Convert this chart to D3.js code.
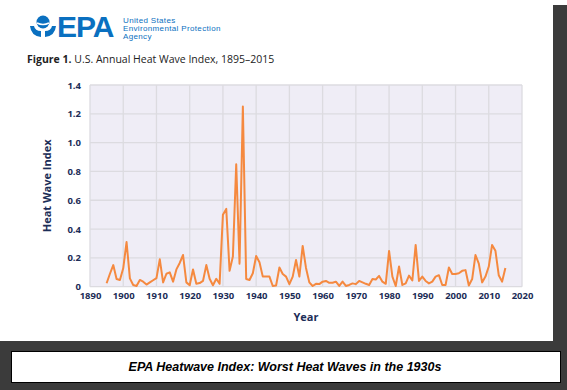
<!DOCTYPE html>
<html>
<head>
<meta charset="utf-8">
<script src="https://cdn.jsdelivr.net/npm/d3@7"></script>
<style>
  body { margin: 0; background: #fff; }
  svg { display: block; }
</style>
</head>
<body>
<svg id="chart" width="567" height="390"></svg>
<script>
// Heat wave index, one value per year, 1895-2015
const startYear = 1895;
const heatIndex = [
  0.024, 0.09, 0.15, 0.053, 0.047, 0.128, 0.31, 0.058, 0.012, 0.005,
  0.047, 0.035, 0.015, 0.03, 0.045, 0.06, 0.19, 0.03, 0.09, 0.10,
  0.035, 0.12, 0.165, 0.22, 0.03, 0.01, 0.12, 0.02, 0.025, 0.04,
  0.15, 0.055, 0.01, 0.055, 0.02, 0.50, 0.54, 0.11, 0.21, 0.85,
  0.16, 1.25, 0.053, 0.047, 0.093, 0.213, 0.17, 0.07, 0.07, 0.07,
  0.005, 0.008, 0.133, 0.088, 0.07, 0.018, 0.07, 0.185, 0.07, 0.283,
  0.13, 0.03, 0.005, 0.02, 0.018, 0.035, 0.04, 0.027, 0.027, 0.035,
  0.005, 0.035, 0.005, 0.012, 0.023, 0.018, 0.04, 0.03, 0.02, 0.012,
  0.053, 0.05, 0.075, 0.035, 0.02, 0.248, 0.07, 0.005, 0.14, 0.012,
  0.023, 0.077, 0.043, 0.29, 0.04, 0.07, 0.04, 0.023, 0.035, 0.07,
  0.08, 0.012, 0.012, 0.133, 0.088, 0.088, 0.093, 0.11, 0.115, 0.008,
  0.053, 0.22, 0.16, 0.03, 0.07, 0.14, 0.29, 0.25, 0.08, 0.035,
  0.13
];
const yearTicks = d3.range(1890, 2021, 10);
const indexTicks = [0, 0.2, 0.4, 0.6, 0.8, 1.0, 1.2, 1.4];

const data = heatIndex.map((v, i) => ({ year: startYear + i, value: v }));

const svg = d3.select("#chart");
const navy = "#1c2d57";
const epaBlue = "#0a70c0";

// frame: drop shadow strip on the right and the dark band with the caption
svg.append("rect").attr("x", 553).attr("y", 5).attr("width", 14).attr("height", 385).attr("fill", "#3b3b3b");
svg.append("rect").attr("x", 0).attr("y", 341).attr("width", 567).attr("height", 49).attr("fill", "#3b3b3b");
svg.append("rect").attr("x", 0).attr("y", 0).attr("width", 553).attr("height", 341).attr("fill", "#fff");
svg.append("rect")
  .attr("x", 11.5).attr("y", 351.5).attr("width", 549).attr("height", 31)
  .attr("fill", "#fff").attr("stroke", "#000").attr("stroke-width", 1);
svg.append("text")
  .attr("x", 285).attr("y", 371)
  .attr("text-anchor", "middle")
  .attr("font-family", "Liberation Sans, Arial, sans-serif")
  .attr("font-size", 12.5).attr("font-weight", "bold").attr("font-style", "italic")
  .attr("fill", "#000")
  .text("EPA Heatwave Index: Worst Heat Waves in the 1930s");

// EPA logo (rough)
const logo = svg.append("g").attr("transform", "translate(43,27)");
logo.append("circle").attr("cx", 0).attr("cy", -5).attr("r", 6.5).attr("fill", epaBlue);
logo.append("path").attr("d", "M-6,-4 Q0,-1 6,-4").attr("stroke", "#fff").attr("stroke-width", 1.5).attr("fill", "none");
logo.append("path").attr("d", "M-13,-1 Q-12,9 -2,10 L-2,4 Q-8,4 -9,-1 Z").attr("fill", epaBlue);
logo.append("path").attr("d", "M13,-1 Q12,9 2,10 L2,4 Q8,4 9,-1 Z").attr("fill", epaBlue);
svg.append("text")
  .attr("x", 57).attr("y", 37)
  .attr("font-family", "Liberation Sans, Arial, sans-serif")
  .attr("font-size", 30).attr("font-weight", "bold")
  .attr("fill", epaBlue).attr("letter-spacing", -1)
  .text("EPA");
const agency = svg.append("text")
  .attr("font-family", "Liberation Sans, Arial, sans-serif")
  .attr("font-size", 8).attr("letter-spacing", 0.35).attr("fill", epaBlue);
["United States", "Environmental Protection", "Agency"].forEach((t, i) => {
  agency.append("tspan").attr("x", 123).attr("y", 23 + i * 8.2).text(t);
});

// figure title
const title = svg.append("text")
  .attr("x", 27).attr("y", 63)
  .attr("font-family", "Open Sans, Noto Sans, sans-serif")
  .attr("font-size", 10.5).attr("fill", "#222");
title.append("tspan").attr("font-weight", "bold").text("Figure 1.");
title.append("tspan").text(" U.S. Annual Heat Wave Index, 1895–2015");

// plot area
const margin = { left: 90, right: 522, top: 85, bottom: 286.7 };
const x = d3.scaleLinear().domain([1890, 2020]).range([margin.left, margin.right]);
const y = d3.scaleLinear().domain([0, 1.4]).range([margin.bottom, margin.top]);

svg.append("rect")
  .attr("x", margin.left).attr("y", margin.top)
  .attr("width", margin.right - margin.left).attr("height", margin.bottom - margin.top)
  .attr("fill", "#efedf6");

svg.append("g").selectAll("line")
  .data(yearTicks).enter().append("line")
  .attr("x1", d => x(d)).attr("x2", d => x(d))
  .attr("y1", margin.top).attr("y2", margin.bottom)
  .attr("stroke", "#dcdbe0").attr("stroke-width", 1.3);

svg.append("g").selectAll("line")
  .data(indexTicks).enter().append("line")
  .attr("x1", margin.left).attr("x2", margin.right)
  .attr("y1", d => y(d)).attr("y2", d => y(d))
  .attr("stroke", "#dcdbe0").attr("stroke-width", 1.3);

// axes (labels only, lines hidden)
const xAxis = svg.append("g")
  .attr("transform", `translate(0,${margin.bottom})`)
  .call(d3.axisBottom(x).tickValues(yearTicks).tickFormat(d3.format("d")).tickSize(0).tickPadding(6));
const yAxis = svg.append("g")
  .attr("transform", `translate(${margin.left},0)`)
  .call(d3.axisLeft(y).tickValues(indexTicks).tickFormat(d => d === 0 ? "0" : d3.format(".1f")(d)).tickSize(0).tickPadding(9));
[xAxis, yAxis].forEach(g => {
  g.select(".domain").remove();
  g.selectAll("text")
    .attr("font-family", "Open Sans, Noto Sans, sans-serif")
    .attr("font-size", 9.5).attr("font-weight", "bold").attr("fill", navy);
});

svg.append("text")
  .attr("transform", `translate(51,${(margin.top + margin.bottom) / 2}) rotate(-90)`)
  .attr("text-anchor", "middle")
  .attr("font-family", "Open Sans, Noto Sans, sans-serif")
  .attr("font-size", 11).attr("font-weight", "bold").attr("fill", navy)
  .text("Heat Wave Index");

svg.append("text")
  .attr("x", 306).attr("y", 321)
  .attr("text-anchor", "middle")
  .attr("font-family", "Open Sans, Noto Sans, sans-serif")
  .attr("font-size", 11).attr("font-weight", "bold").attr("fill", navy)
  .text("Year");

// the series
const line = d3.line().x(d => x(d.year)).y(d => y(d.value));
svg.append("path")
  .datum(data)
  .attr("d", line)
  .attr("fill", "none")
  .attr("stroke", "#f5893f")
  .attr("stroke-width", 2)
  .attr("stroke-linejoin", "round");
</script>
</body>
</html>
